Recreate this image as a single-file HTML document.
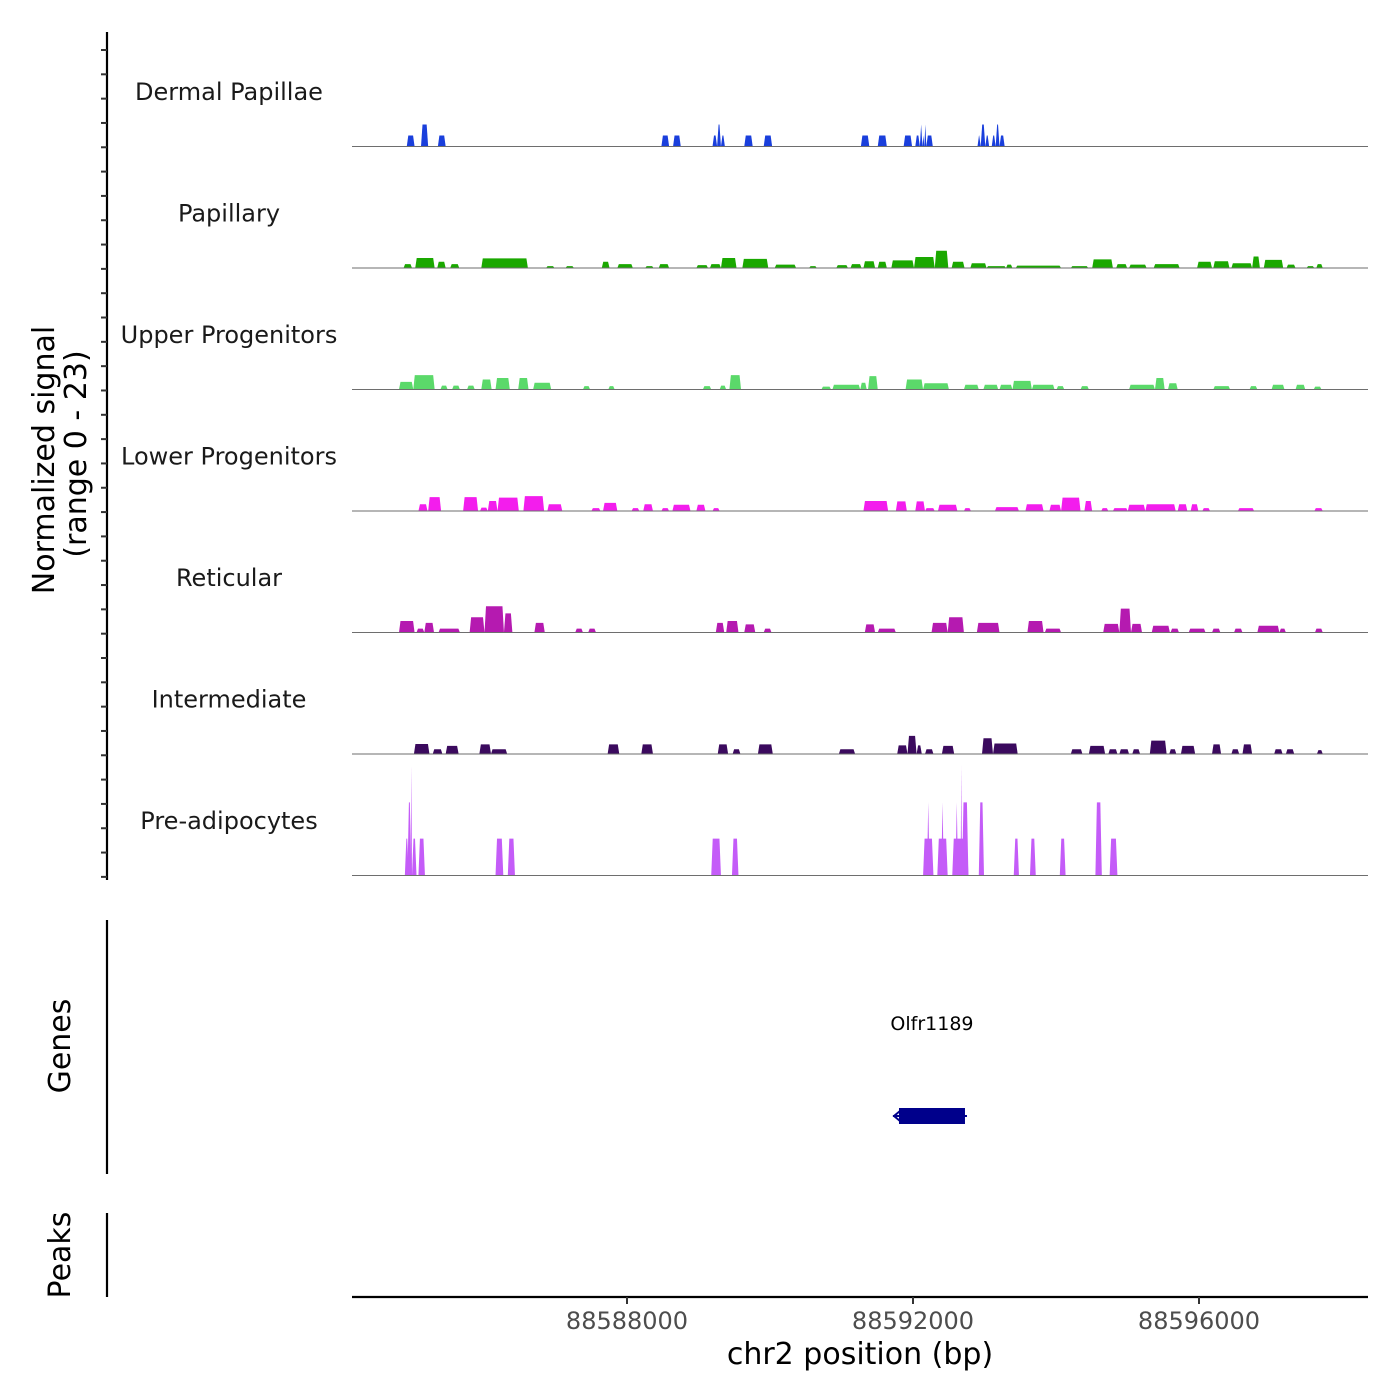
<!DOCTYPE html>
<html><head><meta charset="utf-8"><style>
html,body{margin:0;padding:0;background:#fff;}
svg{display:block;font-family:"DejaVu Sans","Liberation Sans",sans-serif;}
</style></head><body>
<svg id="chart" width="1400" height="1400" viewBox="0 0 1400 1400" xmlns="http://www.w3.org/2000/svg">
<g id="left-axes"></g>
<g id="tracks"></g>
<g id="genes"></g>
<g id="xaxis"></g>
<text transform="translate(54,460) rotate(-90)" text-anchor="middle" font-size="30" fill="#000">Normalized signal</text>
<text transform="translate(86,454) rotate(-90)" text-anchor="middle" font-size="30" fill="#000">(range 0 - 23)</text>
<text transform="translate(70,1046) rotate(-90)" text-anchor="middle" font-size="30" fill="#000">Genes</text>
<text transform="translate(70,1255) rotate(-90)" text-anchor="middle" font-size="30" fill="#000">Peaks</text>
<text x="860" y="1364" text-anchor="middle" font-size="30" fill="#000">chr2 position (bp)</text>
</svg>
<script>
const trackNames = ["Dermal Papillae","Papillary","Upper Progenitors","Lower Progenitors","Reticular","Intermediate","Pre-adipocytes"];
const trackColors = ["#1a3fdc","#1aa800","#5bd96a","#f31ded","#b51ab0","#3b0a5e","#c45cf8"];

const dpStarts = [88584920,88585119,88585355,88588481,88588644,88589196,88589260,88589314,88589640,88589912,88591271,88591507,88591869,88592032,88592096,88592132,88592159,88592186,88592902,88592947,88593011,88593101,88593156,88593210];
const dpEnds = [88585029,88585219,88585464,88588589,88588752,88589260,88589314,88589369,88589758,88590030,88591389,88591634,88591987,88592096,88592132,88592159,88592186,88592277,88592947,88593011,88593065,88593156,88593210,88593282];
const dpValues = [2.3,4.6,2.3,2.3,2.3,2.3,4.6,2.3,2.3,2.3,2.3,2.3,2.3,2.3,4.6,2.3,4.6,2.3,2.3,4.6,2.3,2.3,4.6,2.3];

const papStarts = [88584875,88585038,88585346,88585527,88585962,88586868,88587140,88587647,88587865,88588254,88588444,88588970,88589160,88589314,88589613,88590066,88590546,88590927,88591126,88591307,88591507,88591697,88592014,88592304,88592540,88592802,88593029,88593301,88593437,88594207,88594506,88594841,88595022,88595366,88595973,88596200,88596453,88596743,88596906,88597224,88597504,88597640];
const papEnds = [88584993,88585310,88585464,88585654,88586614,88586986,88587258,88587756,88588082,88588372,88588589,88589133,88589314,88589532,88589976,88590365,88590655,88591090,88591280,88591470,88591634,88592014,88592304,88592494,88592721,88593029,88593301,88593391,88594071,88594451,88594796,88594995,88595267,88595729,88596182,88596426,88596743,88596852,88597178,88597350,88597613,88597731];
const papValues = [0.8,2.1,1.3,0.8,2.0,0.4,0.4,1.3,0.8,0.4,0.8,0.6,0.8,2.1,1.9,0.7,0.4,0.6,0.8,1.4,1.3,1.6,2.3,3.6,1.3,1.0,0.4,0.7,0.5,0.4,1.8,0.8,0.7,0.8,1.3,1.4,1.0,2.4,1.7,0.7,0.4,0.8];

const upStarts = [88584811,88585011,88585391,88585554,88585763,88585962,88586161,88586478,88586687,88587384,88587738,88589061,88589296,88589432,88590719,88590873,88591262,88591371,88591896,88592141,88592712,88592984,88593210,88593391,88593663,88594007,88594343,88595022,88595384,88595566,88596200,88596707,88597015,88597350,88597604];
const upEnds = [88585011,88585310,88585491,88585663,88585871,88586107,88586361,88586623,88586940,88587484,88587828,88589178,88589387,88589595,88590854,88591262,88591353,88591507,88592141,88592503,88592920,88593192,88593391,88593663,88593980,88594116,88594460,88595384,88595520,88595702,88596435,88596816,88597196,88597486,88597713];
const upValues = [1.6,3.0,0.8,0.8,0.8,2.1,2.4,2.4,1.4,0.7,0.7,0.7,0.8,3.0,0.6,1.0,1.4,2.8,2.1,1.3,1.0,1.0,1.0,1.8,1.0,0.7,0.7,1.0,2.4,1.3,0.7,0.7,1.0,1.0,0.6];

const lowStarts = [88585083,88585219,88585708,88585944,88586053,88586189,88586551,88586886,88587502,88587665,88588064,88588227,88588481,88588635,88588970,88589196,88591307,88591760,88592032,88592168,88592349,88592712,88593146,88593572,88593908,88594071,88594397,88594632,88594796,88595004,88595249,88595702,88595883,88596046,88596544,88597613];
const lowEnds = [88585210,88585400,88585917,88586053,88586189,88586487,88586841,88587095,88587629,88587865,88588173,88588363,88588589,88588888,88589097,88589296,88591652,88591914,88592168,88592304,88592621,88592811,88593482,88593826,88594071,88594343,88594506,88594732,88595004,88595249,88595674,88595837,88595991,88596155,88596771,88597731];
const lowValues = [1.4,2.9,2.9,0.7,2.1,2.8,3.1,1.4,0.6,1.7,0.6,1.4,0.6,1.3,1.3,0.6,2.1,2.0,2.0,0.6,1.3,0.6,0.8,1.4,1.3,2.8,2.1,0.6,0.6,1.3,1.4,1.4,1.4,0.6,0.6,0.6];

const retStarts = [88584811,88585056,88585165,88585364,88585799,88586007,88586279,88586705,88587276,88587457,88589242,88589387,88589640,88589912,88591326,88591507,88592259,88592485,88592893,88593600,88593844,88594660,88594886,88595049,88595339,88595602,88595856,88596182,88596490,88596816,88597124,88597622];
const retEnds = [88585029,88585165,88585301,88585663,88586007,88586279,88586397,88586850,88587384,88587566,88589360,88589559,88589794,88590021,88591470,88591760,88592485,88592712,88593210,88593826,88594071,88594886,88595049,88595203,88595593,88595720,88596091,88596299,88596608,88597124,88597215,88597731];
const retValues = [2.4,0.8,2.0,0.8,3.2,5.5,4.0,2.0,0.8,0.8,2.0,2.4,1.7,0.8,1.7,0.8,2.0,3.2,2.0,2.4,0.8,1.8,5.0,1.8,1.4,0.8,0.8,0.8,0.8,1.4,0.8,0.8];

const intStarts = [88585020,88585283,88585464,88585935,88586098,88587729,88588200,88589269,88589477,88589831,88590963,88591779,88591923,88592050,88592168,88592404,88592965,88593119,88594207,88594460,88594732,88594886,88595067,88595312,88595584,88595747,88596182,88596453,88596608,88597051,88597215,88597649];
const intEnds = [88585237,88585418,88585645,88586098,88586324,88587892,88588363,88589414,88589586,88590039,88591190,88591923,88592050,88592123,88592286,88592576,88593119,88593464,88594370,88594687,88594859,88595022,88595176,88595547,88595683,88595946,88596309,88596562,88596743,88597169,88597332,88597731];
const intValues = [2.1,1.0,1.7,2.0,1.0,2.0,2.0,2.0,1.0,2.0,1.0,1.8,3.8,1.8,1.0,1.7,3.3,2.2,1.0,1.7,1.0,1.0,1.0,2.8,1.0,1.7,2.0,1.0,2.0,1.0,1.0,0.8];

const preStarts = [88584893,88584929,88584974,88584993,88585083,88586161,88586333,88589178,88589468,88592141,88592195,88592340,88592395,88592549,88592594,88592666,88592685,88592920,88593409,88593636,88594053,88594551,88594750];
const preEnds = [88584947,88584984,88584993,88585056,88585174,88586270,88586433,88589314,88589559,88592286,88592232,88592485,88592431,88592775,88592630,88592685,88592775,88592993,88593482,88593717,88594134,88594641,88594859];
const preValues = [7.7,15.3,23,7.7,7.7,7.7,7.7,7.7,7.7,7.7,15.3,7.7,15.3,7.7,15.3,23,15.3,15.3,7.7,7.7,7.7,15.3,7.7];

const xTicks = [88588000,88592000,88596000];
const geneNames = ["Olfr1189"];
const geneStarts = [88591804];
const geneEnds = [88592727];

const NS = "http://www.w3.org/2000/svg";
const X0 = 352, X1 = 1368;
const BP0 = 88588000, PX0 = 627, PXPERBP = 0.0715;
function xScale(bp){ return PX0 + (bp - BP0) * PXPERBP; }
const TRACK_TOP = 25, TRACK_H = 121.5, PX_PER_UNIT = 110/23;
function baseline(i){ return TRACK_TOP + TRACK_H*(i+1); }
function yScale(i, v){ return baseline(i) - v*PX_PER_UNIT; }
function mk(tag, attrs, parent){ const e=document.createElementNS(NS,tag); for(const k in attrs) e.setAttribute(k,attrs[k]); parent.appendChild(e); return e; }

const series = [[dpStarts,dpEnds,dpValues],[papStarts,papEnds,papValues],[upStarts,upEnds,upValues],[lowStarts,lowEnds,lowValues],[retStarts,retEnds,retValues],[intStarts,intEnds,intValues],[preStarts,preEnds,preValues]];
const tracksG = document.getElementById('tracks');
series.forEach((s,i)=>{
  const g = mk('g',{},tracksG);
  
  
  const lab = mk('text',{x:229,y:baseline(i)-TRACK_H+75,'text-anchor':'middle','font-size':24,fill:'#1a1a1a'},g);
  lab.textContent = trackNames[i];
  
  
  const b = baseline(i);
  const [st,en,va] = s;
  for(let k=0;k<st.length;k++){
    const x0=xScale(st[k]), x1=xScale(en[k]);
    const inset=Math.min(1.5,(x1-x0)/2);
    const yt=yScale(i,va[k]);
    const p = mk('polygon',{points:`${x0},${b} ${x0+inset},${yt} ${x1-inset},${yt} ${x1},${b}`,fill:trackColors[i]},g);
    
    
  }
  const bl = mk('line',{x1:X0,x2:X1,y1:b,y2:b,stroke:'#6e6e6e','stroke-width':1},g);
  
  
});

const la = document.getElementById('left-axes');
const ax1 = mk('line',{x1:107,x2:107,y1:32,y2:880,stroke:'#000','stroke-width':2.2},la);


for(let y=50; y<=879; y+=24.32){
  const t = mk('line',{x1:101,x2:107,y1:y,y2:y,stroke:'#333','stroke-width':2},la);
  
  
}
const ax2 = mk('line',{x1:107,x2:107,y1:920,y2:1174,stroke:'#000','stroke-width':2.2},la);


const ax3 = mk('line',{x1:107,x2:107,y1:1213,y2:1297,stroke:'#000','stroke-width':2.2},la);



const gg = document.getElementById('genes');
geneNames.forEach((n,k)=>{
  const x0=xScale(geneStarts[k]), x1=xScale(geneEnds[k]);
  const ln = mk('line',{x1:x0-6,x2:x1+2,y1:1116,y2:1116,stroke:'#00008b','stroke-width':2},gg);
  
  
  const r = mk('rect',{x:x0,y:1108,width:x1-x0,height:16,fill:'#00008b'},gg);
  
  
  const ar = mk('path',{d:`M${x0+1},1111 L${x0-5},1116 L${x0+1},1121`,stroke:'#00008b','stroke-width':2,fill:'none'},gg);
  
  
  const t = mk('text',{x:(x0+x1)/2,y:1030,'text-anchor':'middle','font-size':19,fill:'#000'},gg);
  t.textContent = n;
  
  
});

const xa = document.getElementById('xaxis');
const xl = mk('line',{x1:X0,x2:X1,y1:1297,y2:1297,stroke:'#000','stroke-width':2.2},xa);


xTicks.forEach(v=>{
  const x=xScale(v);
  const t = mk('line',{x1:x,x2:x,y1:1297,y2:1304,stroke:'#333','stroke-width':2},xa);
  
  
  const l = mk('text',{x:x,y:1329,'text-anchor':'middle','font-size':24,fill:'#4d4d4d'},xa);
  l.textContent = String(v);
  
  
});
</script>
</body></html>
